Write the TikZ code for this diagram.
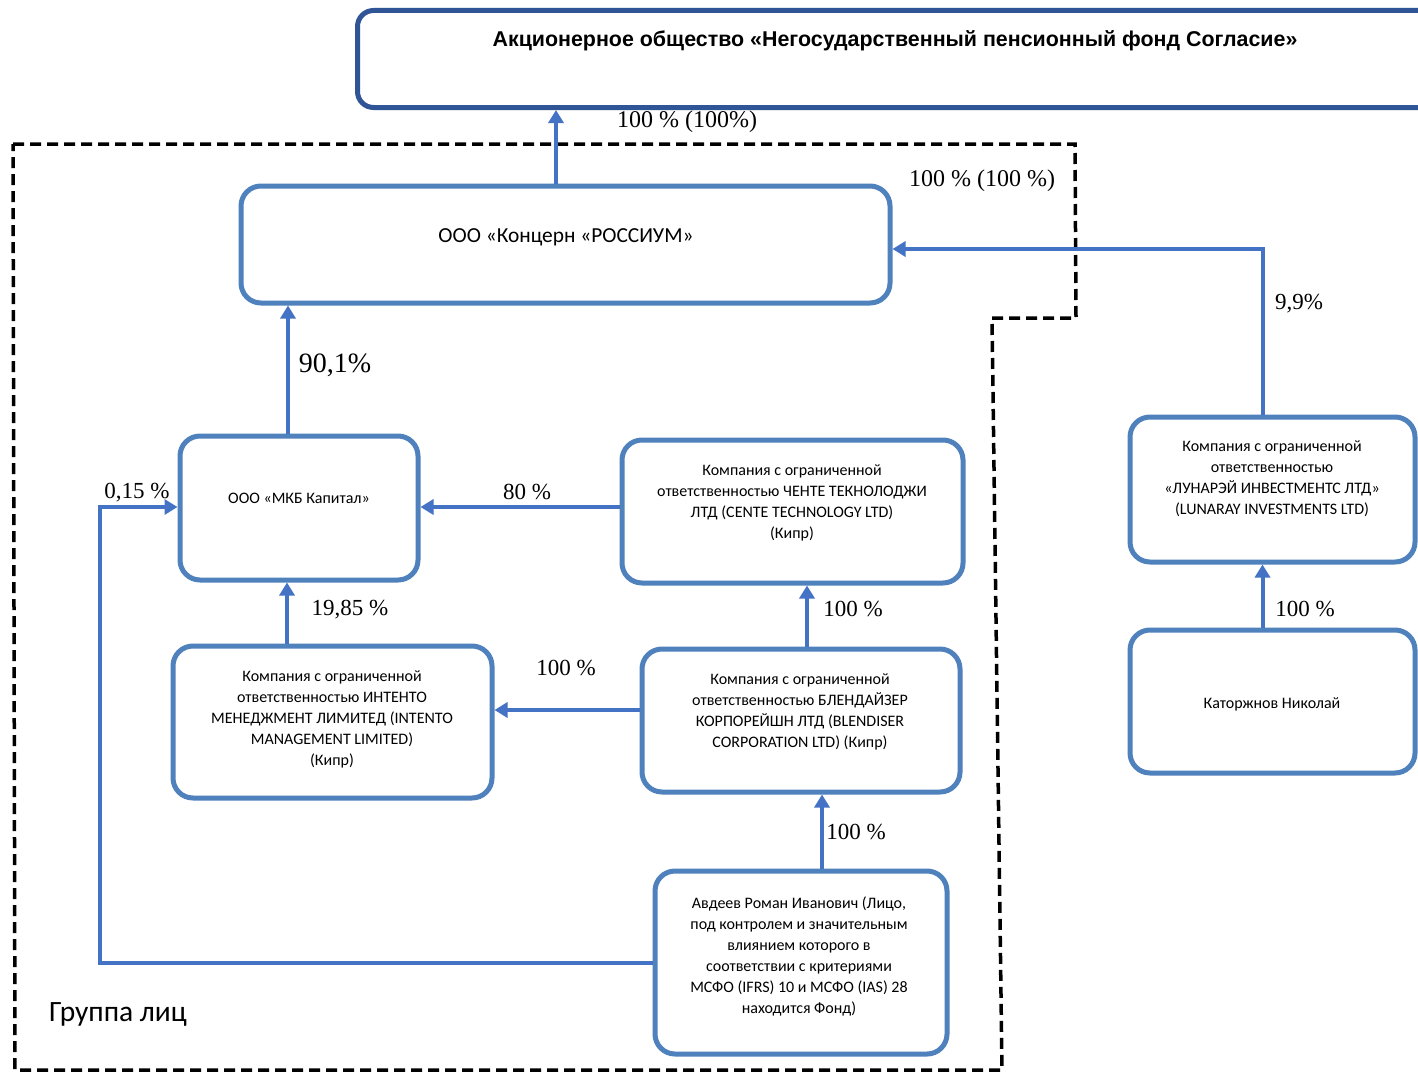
\documentclass[tikz,border=0pt]{standalone}
\usepackage{fontspec}
\setmainfont{Liberation Serif}
\newfontfamily\carlito{Carlito}
\newfontfamily\lsans{Liberation Sans}
\usetikzlibrary{arrows.meta}
\definecolor{boxblue}{RGB}{79,129,189}
\definecolor{arrowblue}{RGB}{68,114,196}
\definecolor{topblue}{RGB}{47,85,151}
\tikzset{
  box/.style={draw=boxblue, line width=5pt, rounded corners=20pt, fill=white, inner sep=0pt},
  topbox/.style={draw=topblue, line width=5pt, rounded corners=16pt, fill=white, inner sep=0pt},
  boxtext/.style={font=\carlito\fontsize{16}{21}\selectfont, align=center, inner sep=0pt},
  pct/.style={font=\fontsize{23}{26}\selectfont, inner sep=0pt},
  arr/.style={draw=arrowblue, line width=4pt, -{Triangle[width=15pt,length=13pt]}},
  group/.style={draw=black, line width=3.5pt, dash pattern=on 11pt off 6pt}
}
\begin{document}
\begin{tikzpicture}[x=1pt,y=-1pt]
\clip (0,0) rectangle (1418,1073);
\fill[white] (0,0) rectangle (1418,1073);

% group of persons (dashed region)
\draw[group] (13,144) -- (1075,144) -- (1076,318) -- (992,318) -- (1002,1070) -- (15,1070) -- cycle;

% boxes
\node[topbox, minimum width=1100pt, minimum height=97pt, anchor=north west] (top) at (355,8) {};
\node[box, minimum width=649pt, minimum height=117pt] (rossium) at (565.5,244.5) {};
\node[box, minimum width=238pt, minimum height=144pt] (mkb) at (299,508) {};
\node[box, minimum width=341pt, minimum height=143pt] (cente) at (792.5,511.5) {};
\node[box, minimum width=319pt, minimum height=152pt] (intento) at (332.5,722) {};
\node[box, minimum width=318pt, minimum height=143pt] (blend) at (801,720.5) {};
\node[box, minimum width=292pt, minimum height=183pt] (avdeev) at (801,962.5) {};
\node[box, minimum width=285pt, minimum height=145pt] (lunaray) at (1272.5,489.5) {};
\node[box, minimum width=285pt, minimum height=143pt] (kator) at (1272.5,701.5) {};

% box texts
\node[font=\lsans\bfseries\fontsize{21.4}{24}\selectfont, inner sep=0pt] (toptext) at (895,41) {Акционерное общество «Негосударственный пенсионный фонд Согласие»};
\node[boxtext, font=\carlito\fontsize{21.4}{24}\selectfont] (rossiumtext) at (566,237) {ООО «Концерн «РОССИУМ»};
\node[boxtext] (mkbtext) at (299,498.5) {ООО «МКБ Капитал»};
\node[boxtext] (centetext) at (792,503) {Компания с ограниченной\\ответственностью ЧЕНТЕ ТЕКНОЛОДЖИ\\ЛТД (CENTE TECHNOLOGY LTD)\\(Кипр)};
\node[boxtext] (intentotext) at (332,719.5) {Компания с ограниченной\\ответственностью ИНТЕНТО\\МЕНЕДЖМЕНТ ЛИМИТЕД (INTENTO\\MANAGEMENT LIMITED)\\(Кипр)};
\node[boxtext] (blendtext) at (800,711.5) {Компания с ограниченной\\ответственностью БЛЕНДАЙЗЕР\\КОРПОРЕЙШН ЛТД (BLENDISER\\CORPORATION LTD) (Кипр)};
\node[boxtext] (avdeevtext) at (799,956) {Авдеев Роман Иванович (Лицо,\\под контролем и значительным\\влиянием которого в\\соответствии с критериями\\МСФО (IFRS) 10 и МСФО (IAS) 28\\находится Фонд)};
\node[boxtext] (lunaraytext) at (1272,478.5) {Компания с ограниченной\\ответственностью\\«ЛУНАРЭЙ ИНВЕСТМЕНТС ЛТД»\\(LUNARAY INVESTMENTS LTD)};
\node[boxtext] (katortext) at (1272,704) {Каторжнов Николай};
\node[font=\carlito\fontsize{29.5}{32}\selectfont, inner sep=0pt] (grouplabel) at (118,1014) {Группа лиц};

% connectors
\draw[arr] ([xshift=-9.5pt]rossium.north) -- ([xshift=-9.5pt]rossium.north |- top.south);
\draw[arr] ([xshift=-10pt]lunaray.north) |- ([yshift=-4.5pt]rossium.east);
\draw[arr] ([xshift=-11pt]mkb.north) -- ([xshift=-11pt]mkb.north |- rossium.south);
\draw[arr] ([yshift=4.5pt]cente.west) -- ([yshift=4.5pt]cente.west -| mkb.east);
\draw[arr] ([xshift=-45.5pt]intento.north) -- ([xshift=-45.5pt]intento.north |- mkb.south);
\draw[arr] ([xshift=6pt]blend.north) -- ([xshift=6pt]blend.north |- cente.south);
\draw[arr] ([yshift=10.5pt]blend.west) -- ([yshift=10.5pt]blend.west -| intento.east);
\draw[arr] ([xshift=21pt]avdeev.north) -- ([xshift=21pt]avdeev.north |- blend.south);
\coordinate (bend) at (100,962.5);
\draw[arr] (avdeev.west) -- (bend) |- ([yshift=1pt]mkb.west);
\draw[arr] ([xshift=-10pt]kator.north) -- ([xshift=-10pt]kator.north |- lunaray.south);

% percentage labels
\node[pct, font=\fontsize{24}{26}\selectfont] (l1) at (687,122) {100 \% (100\%)};
\node[pct, font=\fontsize{24}{26}\selectfont] (l2) at (982,181) {100 \% (100 \%)};
\node[pct] (l3) at (1299,304) {9,9\%};
\node[pct, font=\fontsize{28}{30}\selectfont] (l4) at (335,365) {90,1\%};
\node[pct] (l5) at (527,492) {80 \%};
\node[pct] (l6) at (137,493) {0,15 \%};
\node[pct] (l7) at (350,610) {19,85 \%};
\node[pct] (l8) at (566,668) {100 \%};
\node[pct] (l9) at (853,609) {100 \%};
\node[pct] (l10) at (856,832) {100 \%};
\node[pct] (l11) at (1305,609) {100 \%};
\end{tikzpicture}
\end{document}
